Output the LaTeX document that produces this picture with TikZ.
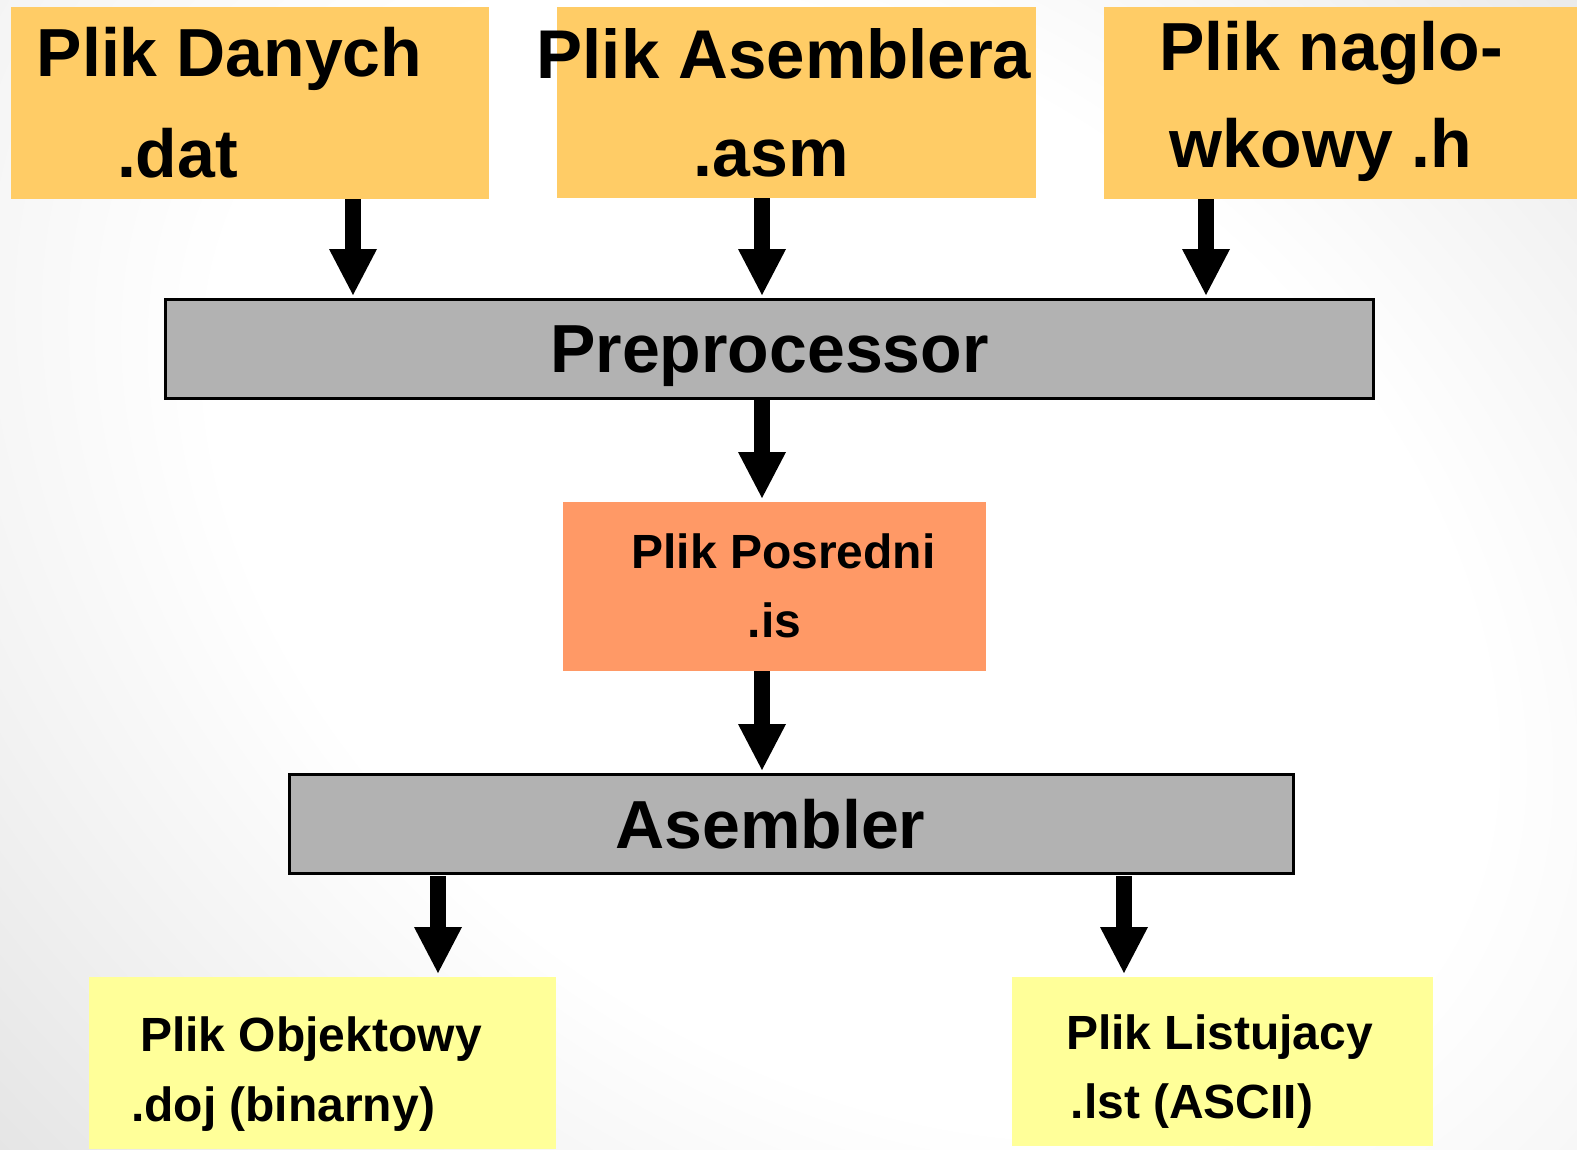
\documentclass[tikz,border=0pt]{standalone}
\usepackage{fontspec}
\setmainfont{Liberation Sans}
\usetikzlibrary{arrows.meta}

\pgfdeclareradialshading{backglow}{\pgfpoint{0bp}{0bp}}{%
  color(0bp)=(white); color(22bp)=(white); color(50bp)=(black!12); color(80bp)=(black!12)}

\definecolor{srcfill}{HTML}{FFCC66}
\definecolor{midfill}{HTML}{FF9966}
\definecolor{toolfill}{HTML}{B2B2B2}
\definecolor{outfill}{HTML}{FFFF99}

\tikzset{
  box/.style={rectangle, inner sep=0pt, outer sep=0pt, draw=none},
  srcbox/.style={box, fill=srcfill},
  midbox/.style={box, fill=midfill},
  outbox/.style={box, fill=outfill},
  toolbox/.style={box, fill=toolfill, draw=black, line width=3pt},
  bigtxt/.style={anchor=base, inner sep=0pt, font=\fontsize{68}{80}\selectfont\bfseries},
  smalltxt/.style={anchor=base, inner sep=0pt, font=\fontsize{48}{56}\selectfont\bfseries},
  flow/.style={line width=16pt, shorten >=4pt,
    -{Triangle[length=46pt,width=48pt,line width=0pt]}}
}

\begin{document}
\begin{tikzpicture}[x=1pt,y=-1pt]
  % page background: soft light-grey glow along a tilted ellipse
  \useasboundingbox (0,0) rectangle (1577,1149);
  \begin{scope}
    \clip (0,0) rectangle (1577,1149);
    \fill[black!12] (0,0) rectangle (1577,1149);
    \begin{pgfscope}
      \pgftransformshift{\pgfpoint{850pt}{-560pt}}%
      \pgftransformrotate{-36}%
      \pgftransformxscale{31.88}%
      \pgftransformyscale{21.92}%
      \pgflowlevelsynccm
      \pgfuseshading{backglow}%
    \end{pgfscope}
  \end{scope}

  % source files
  \node[srcbox, minimum width=478pt, minimum height=192pt] (dat) at (250,103) {};
  \node[srcbox, minimum width=479pt, minimum height=191pt] (asm) at (796.5,102.5) {};
  \node[srcbox, minimum width=473pt, minimum height=192pt] (hdr) at (1340.5,103) {};
  \node[bigtxt] (datA) at (229.5,76) {Plik Danych};
  \node[bigtxt] (datB) at (177.5,177) {.dat};
  \node[bigtxt] (asmA) at (784,78) {\fontsize{69}{80}\selectfont Plik Asemblera};
  \node[bigtxt] (asmB) at (771,176) {.asm};
  \node[bigtxt] (hdrA) at (1331,70) {Plik naglo-};
  \node[bigtxt] (hdrB) at (1321,167) {wkowy .h};

  % preprocessor
  \node[toolbox, minimum width=1208pt, minimum height=99pt] (pre) at (769,348.5) {};
  \node[bigtxt] (preT) at (769.5,372) {Preprocessor};

  % intermediate file
  \node[midbox, minimum width=423pt, minimum height=169pt] (is) at (774.5,586.5) {};
  \node[smalltxt] (isA) at (783.5,568) {Plik Posredni};
  \node[smalltxt] (isB) at (774.5,637) {.is};

  % assembler
  \node[toolbox, minimum width=1004pt, minimum height=99pt] (asmb) at (791,823.5) {};
  \node[bigtxt] (asmbT) at (770.5,848) {Asembler};

  % output files
  \node[outbox, minimum width=467pt, minimum height=172pt] (obj) at (322.5,1063) {};
  \node[outbox, minimum width=421pt, minimum height=169pt] (lst) at (1222.5,1061.5) {};
  \node[smalltxt] (objA) at (311,1051) {Plik Objektowy};
  \node[smalltxt] (objB) at (283,1121) {.doj (binarny)};
  \node[smalltxt] (lstA) at (1219.5,1049) {Plik Listujacy};
  \node[smalltxt] (lstB) at (1192,1118) {.lst (ASCII)};

  % arrow columns
  \coordinate (cdat) at (353,0);
  \coordinate (cmid) at (762,0);
  \coordinate (chdr) at (1206,0);
  \coordinate (cobj) at (438,0);
  \coordinate (clst) at (1124,0);

  % connectors
  \draw[flow] (dat.south -| cdat) -- (pre.north -| cdat);
  \draw[flow] (asm.south -| cmid) -- (pre.north -| cmid);
  \draw[flow] (hdr.south -| chdr) -- (pre.north -| chdr);
  \draw[flow] (pre.south -| cmid) -- (is.north -| cmid);
  \draw[flow] (is.south -| cmid) -- (asmb.north -| cmid);
  \draw[flow] ([yshift=-3pt]asmb.south -| cobj) -- (obj.north -| cobj);
  \draw[flow] ([yshift=-3pt]asmb.south -| clst) -- (lst.north -| clst);
\end{tikzpicture}
\end{document}
